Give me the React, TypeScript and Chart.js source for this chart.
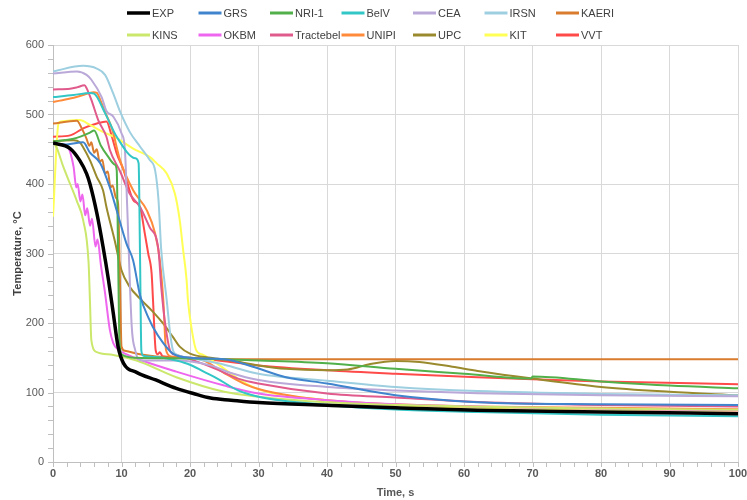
import React, { useEffect, useRef } from "react";
import { Chart, registerables } from "chart.js";

Chart.register(...registerables);

type P = [number, number];

// time (s), temperature (°C)
const EXP: P[] = [[0,459],[2.5,451],[3.9,434],[4.9,415],[5.4,400],[6.4,358],[7.3,310],[8.1,262],[8.8,214],[9.5,166],[10.3,142],[12.2,129],[15,118],[18,106],[20.5,98.5],[23,92],[26,89],[30,85.5],[40,81.6],[50,78],[62,74.5],[80,72],[100,69.5]];
const GRS: P[] = [[0,458],[2,457],[4.4,460],[5.4,445],[6.9,430],[8.3,395],[9.3,362],[10.7,315],[11.7,290],[12.7,240],[14.1,204],[14.6,194],[16.1,171],[17.5,156],[20,150],[25,148],[29.2,137],[34,122],[40,113],[50,96],[62,86],[80,83],[100,82]];
const NRI1: P[] = [[0,461],[3,465],[5.4,474],[6,477],[7,455],[8,440],[9,428],[9.3,420],[9.5,300],[9.7,175],[10,155],[12,150],[20,149],[30,146],[40,142],[50,134],[60,127],[69.8,120],[70,123],[80,116],[90,110],[100,106]];
const BELV: P[] = [[0,525],[3,528],[5.4,531],[6,530],[7.6,502],[9.3,468],[12,437],[12.5,430],[12.7,300],[12.9,160],[13.2,153],[16,150],[18,146],[20,140],[22,130],[24,120],[27,103],[30,94],[40,82],[50,75.5],[62,72],[80,68],[100,66]];
const CEA: P[] = [[0,559],[3.5,562],[4.9,557],[5.6,550],[7.1,525],[7.8,505],[8.8,497],[10,473],[10.5,449],[10.8,376],[11.5,194],[12,161],[12.4,149],[13,146],[18,146],[23,139],[26,128],[30,118],[40,108],[50,103],[62,99],[80,96],[100,94.5]];
const IRSN: P[] = [[0,562],[4.4,570],[6.4,566],[7.6,557],[8.8,530],[9.8,504],[11.2,475],[12.7,454],[14.1,435],[14.9,420],[15.4,377],[15.8,305],[16.6,233],[17.1,185],[17.5,161],[18,155],[20,150],[25,140],[30,127],[40,117],[50,108],[62,102],[80,98],[100,96]];
const KAERI: P[] = [[0,487],[3.5,491],[4.2,480],[4.9,465],[5.3,455],[5.6,460],[6,445],[6.4,450],[6.8,432],[7.2,435],[7.6,415],[8,418],[8.4,395],[8.7,398],[9.2,380],[9.5,372],[9.8,250],[10,166],[10.5,160],[12.7,155],[16,151],[20,149],[30,148],[50,148],[100,148]];
const KINS: P[] = [[0,460],[0.5,453],[1.5,425],[2.5,400],[3.5,375],[4.4,348],[5.2,286],[5.4,230],[5.6,175],[6.4,158],[8.8,154],[12.2,146],[18,122],[25,101],[30,94],[40,86],[60,80],[80,77],[100,75]];
const OKBM: P[] = [[0,458],[2,455],[3,425],[3.4,395],[3.6,400],[4,375],[4.3,385],[4.7,355],[5,365],[5.4,340],[5.7,350],[6.2,310],[6.5,320],[7,283],[7.6,243],[8.3,190],[8.8,171],[9.5,162],[10.5,156],[13,146],[18,130],[25,110],[30,98.5],[40,89],[50,83],[70,78],[100,74]];
const TRACTEBEL: P[] = [[0,536],[2.5,537],[3.5,539],[4.6,542],[4.9,538],[5.6,521],[6.6,492],[7.8,468],[8.3,449],[9.8,418],[11.2,386],[12.7,367],[14.1,338],[15.4,305],[15.8,252],[16.5,190],[17.2,158],[18,154],[20,148],[24,133],[27,120],[30,113],[40,98.5],[50,92.7],[62,86.4],[80,82],[100,80]];
const UNIPI: P[] = [[0,518],[2.5,523],[4.4,528],[5.9,532],[6.4,531],[6.9,521],[7.8,499],[8.6,480],[9.8,434],[11.7,391],[13.7,362],[14.9,329],[15.6,290],[16.1,233],[16.5,161],[17.2,152],[20,150],[22,146],[25,128],[28,112],[30,105],[35,95],[40,89],[50,83],[62,80],[80,78],[100,76]];
const UPC: P[] = [[0,462],[3,463],[3.9,460],[4.4,453],[5.4,434],[6.4,410],[7.3,391],[7.8,367],[9,319],[10,276],[11.2,252],[12.7,235],[14.6,216],[16.1,199],[17.5,180],[18.5,166],[20,156],[23,150],[26,146],[30,139],[34,134],[40,132],[43,133],[46.3,141],[50,145.5],[53.5,144],[58.3,137],[62,131],[70,120],[80,108],[90,101],[100,96]];
const KIT: P[] = [[0,353],[0.8,487],[1.2,490],[3.9,492],[5.4,485],[7.3,475],[9.3,466],[11.7,451],[14.1,439],[15.1,430],[16.6,415],[17.8,386],[18.5,348],[19,305],[19.5,262],[19.7,233],[20.2,194],[20.9,161],[21.9,154],[24.3,139],[27.3,118],[30.2,104],[40,89],[50,81.6],[62,78],[80,75.5],[100,73.5]];
const VVT: P[] = [[0,468],[2.5,470],[4.4,480],[6.4,487],[7.8,490],[8.6,468],[9.3,444],[10.3,420],[11.7,377],[12.7,367],[13.4,329],[13.9,300],[14.4,271],[14.6,233],[15,160],[15.3,155],[15.6,158],[16,152],[20,150],[25,145],[30,139],[40,132],[50,127],[62,122],[70,119],[80,116],[100,112]];

const LABELS = ["EXP","GRS","NRI-1","BelV","CEA","IRSN","KAERI","KINS","OKBM","Tractebel","UNIPI","UPC","KIT","VVT"];
const SERIES: P[][] = [EXP,GRS,NRI1,BELV,CEA,IRSN,KAERI,KINS,OKBM,TRACTEBEL,UNIPI,UPC,KIT,VVT];
const COLORS = ["#000000","#3f84cc","#52b04a","#33c6c6","#b9a8d8","#9dcfe0","#d97c2e","#cbe86c","#ee66ee","#e05a8c","#ff8a3a","#9a8a2e","#ffff55","#ff4a4a"];

const X_TICKS = [0,10,20,30,40,50,60,70,80,90,100];
const Y_TICKS = [0,100,200,300,400,500,600];

const FONT = "'Liberation Sans Narrow', 'Liberation Sans', Arial, sans-serif";

const legendPlugin = {
  id: "customLegend",
  afterDraw(chart: any) {
    const ctx = chart.ctx;
    ctx.save();
    ctx.font = `11px ${FONT}`;
    ctx.textBaseline = "middle";
    ctx.textAlign = "left";
    chart.data.datasets.forEach((ds: any, i: number) => {
      const row = Math.floor(i / 7);
      const col = i % 7;
      const x0 = 127 + col * 71.5;
      const y0 = 13 + row * 22;
      ctx.strokeStyle = ds.borderColor;
      ctx.lineWidth = i === 0 ? 3.5 : 3;
      ctx.beginPath();
      ctx.moveTo(x0, y0);
      ctx.lineTo(x0 + 23, y0);
      ctx.stroke();
      ctx.fillStyle = "#404040";
      ctx.fillText(ds.label, x0 + 25, y0 + 1);
    });
    ctx.restore();
  },
};

const minorTicksPlugin = {
  id: "minorTicks",
  afterDraw(chart: any) {
    const ctx = chart.ctx;
    const xs = chart.scales.x;
    const ys = chart.scales.y;
    const area = chart.chartArea;
    ctx.save();
    ctx.strokeStyle = "#bfbfbf";
    ctx.lineWidth = 1;
    ctx.beginPath();
    for (let v = 0; v <= 600; v += 20) {
      const y = Math.round(ys.getPixelForValue(v)) + 0.5;
      ctx.moveTo(area.left - 5, y);
      ctx.lineTo(area.left, y);
    }
    for (let v = 0; v <= 100; v += 2) {
      const x = Math.round(xs.getPixelForValue(v)) + 0.5;
      ctx.moveTo(x, area.bottom);
      ctx.lineTo(x, area.bottom + 5);
    }
    ctx.stroke();
    ctx.restore();
  },
};

export default function App() {
  const ref = useRef<HTMLCanvasElement | null>(null);
  useEffect(() => {
    if (!ref.current) return;
    Chart.defaults.font.family = FONT;
    const chart = new Chart(ref.current, {
      type: "line",
      data: {
        datasets: SERIES.map((s, i) => ({
          label: LABELS[i],
          data: s.map(([x, y]) => ({ x, y })),
          borderColor: COLORS[i],
          backgroundColor: COLORS[i],
          borderWidth: i === 0 ? 3.5 : 2,
          pointRadius: 0,
          fill: false,
          cubicInterpolationMode: "monotone" as const,
        })),
      },
      options: {
        animation: false,
        responsive: false,
        maintainAspectRatio: false,
        layout: { padding: { left: 0, right: 9, top: 45, bottom: 0 } },
        plugins: { legend: { display: false }, tooltip: { enabled: false } },
        scales: {
          x: {
            type: "linear",
            min: 0,
            max: 100,
            afterFit: (s: any) => { s.height = 38; s.paddingRight = 0; s.paddingLeft = 0; },
            afterBuildTicks: (s: any) => { s.ticks = X_TICKS.map((v) => ({ value: v })); },
            grid: { color: "#d9d9d9", drawTicks: false, lineWidth: 1 },
            border: { color: "#bfbfbf" },
            ticks: { color: "#595959", font: { size: 11, weight: "bold" }, padding: 5, maxRotation: 0 },
            title: { display: true, text: "Time, s", color: "#595959", font: { size: 11, weight: "bold" }, padding: { top: 7, bottom: 0 } },
          },
          y: {
            type: "linear",
            min: 0,
            max: 600,
            afterFit: (s: any) => { s.width = 53; s.paddingTop = 0; s.paddingBottom = 0; },
            afterBuildTicks: (s: any) => { s.ticks = Y_TICKS.map((v) => ({ value: v })); },
            grid: { color: "#d9d9d9", drawTicks: false, lineWidth: 1 },
            border: { color: "#bfbfbf" },
            ticks: { color: "#595959", font: { size: 11 }, padding: 9 },
            title: { display: true, text: "Temperature, °C", color: "#404040", font: { size: 11, weight: "bold" }, padding: { top: 11, bottom: 0 } },
          },
        },
      },
      plugins: [legendPlugin, minorTicksPlugin],
    } as any);
    return () => chart.destroy();
  }, []);
  return (
    <div style={{ position: "fixed", left: 0, top: 0, width: 747, height: 500, background: "#fff" }}>
      <canvas ref={ref} width={747} height={500} style={{ width: 747, height: 500, display: "block" }} />
    </div>
  );
}
